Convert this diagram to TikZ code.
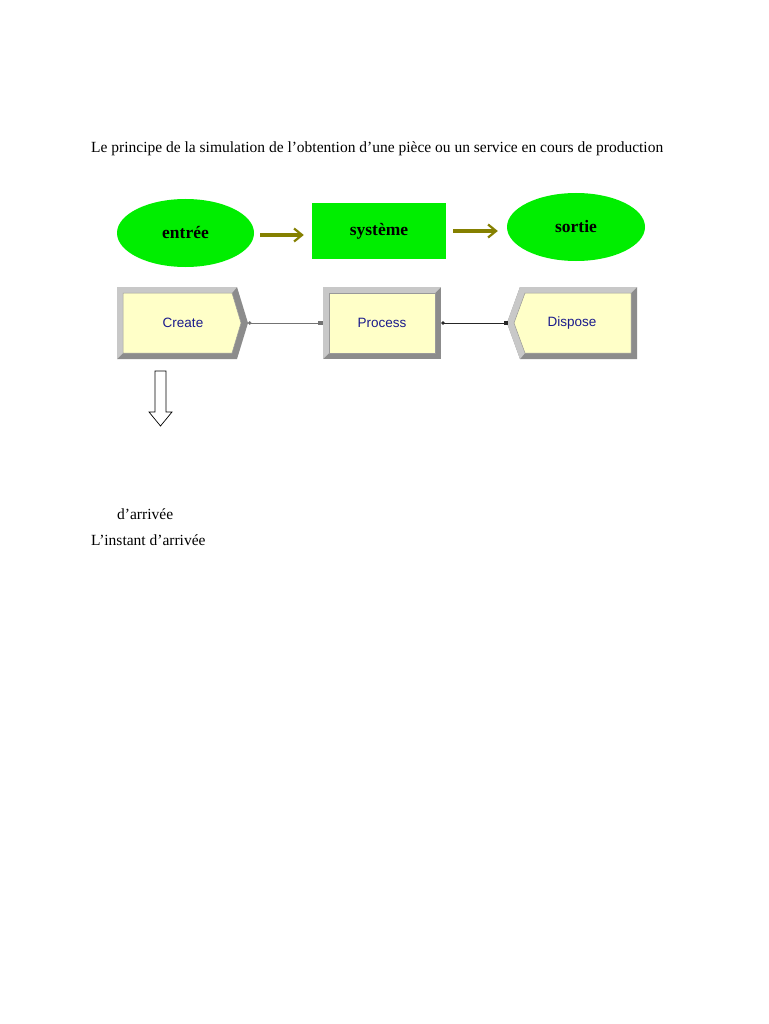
\documentclass[tikz,border=0pt]{standalone}
\usepackage{fontspec}
\setmainfont{Liberation Serif}
\newfontfamily\arenafont{Liberation Sans}
\usetikzlibrary{shapes.geometric,arrows.meta}
\definecolor{lgreen}{HTML}{00EE00}
\definecolor{olivearrow}{HTML}{858000}
\definecolor{bevdark}{HTML}{8C8C8C}
\definecolor{bevlight}{HTML}{C8C8C8}
\definecolor{modfill}{HTML}{FFFFC8}
\definecolor{modtext}{HTML}{1A1A8C}
\tikzset{
  bigshape/.style={fill=lgreen, draw=none, inner sep=0pt, font=\fontsize{17.5}{20}\selectfont\bfseries},
  flowarrow/.style={draw=olivearrow, line width=3.2pt, -{Straight Barb[length=8pt,width=13pt,line width=2.2pt]}},
  modlabel/.style={inner sep=0pt, minimum width=110, minimum height=60, text=modtext, font=\arenafont\fontsize{13.5}{16}\selectfont},
  modlink/.style={line width=0.8pt, {Circle[length=3.5pt]}-{Square[length=4.5pt,width=4.5pt]}},
  bodytext/.style={anchor=base west, inner sep=0pt, font=\fontsize{15.5}{18}\selectfont}
}
\begin{document}
\begin{tikzpicture}[x=1pt,y=-1pt]
\useasboundingbox[fill=white] (0,0) rectangle (768,1024);

% title
\node[bodytext] (title) at (91,153) {Le principe de la simulation de l’obtention d’une pièce ou un service en cours de production};

% top row
\node[bigshape, ellipse, minimum width=137, minimum height=68] (entree) at (185.5,233) {entrée};
\node[bigshape, rectangle, minimum width=134, minimum height=56] (systeme) at (379,231) {système};
\node[bigshape, ellipse, minimum width=138, minimum height=68] (sortie) at (576,227) {sortie};

\draw[flowarrow] ([xshift=6pt,yshift=-2pt]entree.east) -- ([xshift=-8pt,yshift=-4pt]systeme.west);
\draw[flowarrow] ([xshift=7pt]systeme.east) -- ([xshift=-9pt,yshift=-4pt]sortie.west);

% Create module
\fill[bevdark] (117,287) -- (237,287) -- (248,323) -- (237,359) -- (117,359) -- cycle;
\fill[bevlight] (117,287) -- (237,287) -- (232,293) -- (123,293) -- (123,353) -- (117,359) -- cycle;
\filldraw[fill=modfill, draw=gray!80, line width=0.5pt] (123,293) -- (232,293) -- (241,323) -- (232,353) -- (123,353) -- cycle;
\node[modlabel] (create) at (183,323) {Create};
\coordinate (createtip) at (248,323);

% Process module
\fill[bevdark] (323,287) rectangle (441,359);
\fill[bevlight] (323,287) -- (441,287) -- (435,293) -- (329,293) -- (329,353) -- (323,359) -- cycle;
\filldraw[fill=modfill, draw=gray!80, line width=0.5pt] (329,293) rectangle (435,353);
\node[modlabel, minimum width=118, minimum height=72] (process) at (382,323) {Process};

% Dispose module
\fill[bevdark] (520,287) -- (637,287) -- (637,359) -- (520,359) -- (507,323) -- cycle;
\fill[bevlight] (520,287) -- (637,287) -- (631,293) -- (525,293) -- (514,323) -- (525,353) -- (520,359) -- (507,323) -- cycle;
\filldraw[fill=modfill, draw=gray!80, line width=0.5pt] (525,293) -- (631,293) -- (631,353) -- (525,353) -- (514,323) -- cycle;
\node[modlabel] (dispose) at (572,323) {Dispose};
\coordinate (disposetip) at (508,323);

% connectors
\draw[modlink, draw=gray!90!black, fill=black] (createtip) -- (process.west);
\draw[modlink, draw=black!85, fill=black] (process.east) -- (disposetip);

% hollow down arrow
\draw[line width=0.7pt, fill=white] (155,371) -- (166,371) -- (166,412) -- (172,412) -- (160.5,426) -- (149,412) -- (155,412) -- cycle;

% bottom texts
\node[bodytext] (arrivee) at (117,519) {d’arrivée};
\node[bodytext] (instant) at (91,545) {L’instant d’arrivée};
\end{tikzpicture}
\end{document}
